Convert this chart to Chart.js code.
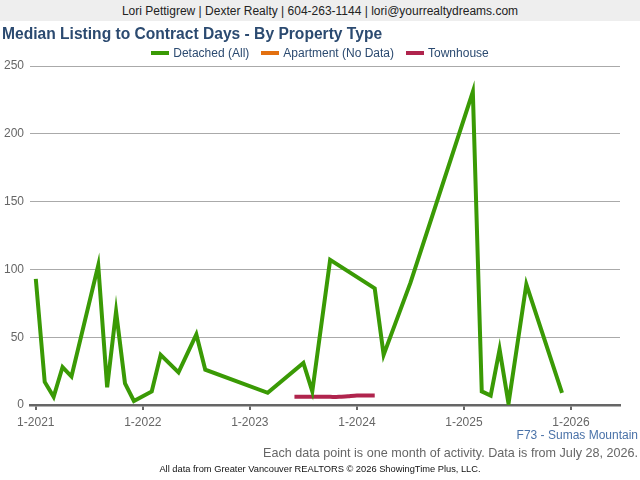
<!DOCTYPE html>
<html>
<head>
<meta charset="utf-8">
<script src="https://cdn.jsdelivr.net/npm/chart.js@4.4.1/dist/chart.umd.min.js"></script>
<style>
  html, body { margin:0; padding:0; background:#fff; }
  body { width:640px; height:480px; position:relative; overflow:hidden; font-family:"Liberation Sans", Arial, sans-serif; }
  #hdr { position:absolute; left:0; top:0; width:640px; height:21px; background:#eeeeee; color:#222; font-size:12px; line-height:22px; text-align:center; }
  #ttl { position:absolute; left:2px; top:25px; font-size:15.6px; font-weight:bold; color:#2b4a70; white-space:nowrap; }
  #leg { position:absolute; left:0; top:46px; width:640px; text-align:center; font-size:12px; color:#2b4a70; white-space:nowrap; }
  #leg span.it { margin:0 6px; }
  #leg span.sw { display:inline-block; width:18px; height:4px; vertical-align:middle; margin-right:4px; position:relative; top:-1px; }
  #area { position:absolute; right:2px; top:428px; font-size:12px; color:#4a72a8; }
  #note { position:absolute; right:2px; top:446px; font-size:12.6px; color:#666; }
  #src { position:absolute; left:0; width:640px; top:464px; text-align:center; font-size:9.3px; color:#111; }
  canvas { position:absolute; left:0; top:0; }
</style>
</head>
<body>
<canvas id="c" width="640" height="480"></canvas>
<div id="hdr">Lori Pettigrew | Dexter Realty | 604-263-1144 | lori@yourrealtydreams.com</div>
<div id="ttl">Median Listing to Contract Days - By Property Type</div>
<div id="leg"></div>
<div id="area">F73 - Sumas Mountain</div>
<div id="note">Each data point is one month of activity. Data is from July 28, 2026.</div>
<div id="src">All data from Greater Vancouver REALTORS © 2026 ShowingTime Plus, LLC.</div>
<script>
// ---- data ----
const seriesNames = ['Detached (All)', 'Apartment (No Data)', 'Townhouse'];
const seriesColors = ['#3a9a05', '#e3700f', '#b0244d'];

const detachedMonths = ['2021-01','2021-02','2021-03','2021-04','2021-05','2021-08','2021-09','2021-10','2021-11','2021-12',
  '2022-02','2022-03','2022-05','2022-07','2022-08','2023-03','2023-07','2023-08','2023-10','2024-03',
  '2024-04','2024-07','2025-02','2025-03','2025-04','2025-05','2025-06','2025-08','2025-12'];
const detachedValues = [93,17,6,28,21,103,13,69,16,3,
  10,37,24,52,26,9,31,10,107,86,
  37,90,231,10,7,41,1,89,9];

const apartmentMonths = [];
const apartmentValues = [];

const townhouseMonths = ['2023-06','2023-07','2023-08','2023-09','2023-10','2023-11','2023-12','2024-01','2024-02','2024-03'];
const townhouseValues = [6,6,6,6,6,6,6.5,7,7,7];

const xTickMonths = ['2021-01','2022-01','2023-01','2024-01','2025-01','2026-01'];
const xTickLabels = ['1-2021','1-2022','1-2023','1-2024','1-2025','1-2026'];
const yTicks = [0,50,100,150,200,250];

// ---- helpers ----
function mIndex(s){ const p = s.split('-'); return (parseInt(p[0])-2021)*12 + (parseInt(p[1])-1); }
function pts(ms, vs){ return ms.map((m,i)=>({x:mIndex(m), y:vs[i]})); }

// HTML legend
const leg = document.getElementById('leg');
seriesNames.forEach((n,i)=>{
  const s = document.createElement('span'); s.className='it';
  s.innerHTML = '<span class="sw" style="background:'+seriesColors[i]+'"></span>'+n;
  leg.appendChild(s);
});

const tickPos = xTickMonths.map(mIndex);

new Chart(document.getElementById('c'), {
  type: 'line',
  data: {
    datasets: [
      { label: seriesNames[0], data: pts(detachedMonths, detachedValues), borderColor: seriesColors[0], backgroundColor: seriesColors[0], borderWidth: 4, pointRadius: 0, spanGaps: true, tension: 0 },
      { label: seriesNames[1], data: pts(apartmentMonths, apartmentValues), borderColor: seriesColors[1], backgroundColor: seriesColors[1], borderWidth: 4, pointRadius: 0 },
      { label: seriesNames[2], data: pts(townhouseMonths, townhouseValues), borderColor: seriesColors[2], backgroundColor: seriesColors[2], borderWidth: 4, pointRadius: 0, tension: 0.3 }
    ]
  },
  options: {
    responsive: false,
    animation: false,
    layout: { padding: { top: 66, left: 0, right: 20, bottom: 45 } },
    plugins: { legend: { display: false }, tooltip: { enabled: false } },
    scales: {
      x: {
        type: 'linear',
        min: -0.65, max: 65.5,
        afterBuildTicks: (sc) => { sc.ticks = tickPos.map(v=>({value:v})); },
        afterFit: (sc) => { sc.height = 30; },
        ticks: {
          autoSkip: false, maxRotation: 0, padding: 5,
          color: '#666', font: { family: '"Liberation Sans", Arial, sans-serif', size: 12 },
          callback: (v) => { const i = tickPos.indexOf(v); return i >= 0 ? xTickLabels[i] : ''; }
        },
        grid: { drawOnChartArea: false, drawTicks: true, tickLength: 5, color: '#666', lineWidth: 2 },
        border: { display: true, color: '#666', width: 2.5 }
      },
      y: {
        min: 0, max: 250,
        afterBuildTicks: (sc) => { sc.ticks = yTicks.map(v=>({value:v})); },
        afterFit: (sc) => { sc.width = 30; },
        ticks: { padding: 6, color: '#666', font: { family: '"Liberation Sans", Arial, sans-serif', size: 12 } },
        grid: { color: (ctx) => ctx.tick && ctx.tick.value === 0 ? 'rgba(0,0,0,0)' : '#aaaaaa', lineWidth: 1, drawTicks: false },
        border: { display: false }
      }
    }
  }
});
</script>
</body>
</html>
